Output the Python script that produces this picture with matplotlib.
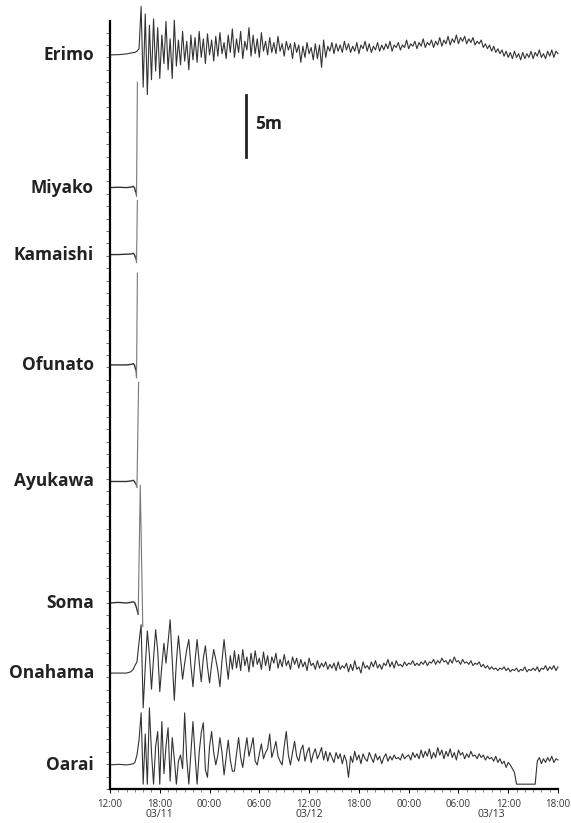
import numpy as np
import matplotlib.pyplot as plt
from matplotlib.transforms import blended_transform_factory

# tide gauge records, hours after 12:00 03/11, water level in m
stations = ["Erimo", "Miyako", "Kamaishi", "Ofunato", "Ayukawa", "Soma", "Onahama", "Oarai"]
offsets = [59.2, 48.5, 43.1, 34.2, 24.8, 15.0, 9.35, 1.94]

# full records: quiet part before arrival, then 15 min samples from 15:00 03/11
pre_t = [0, 1, 2, 2.5, 2.8]
grid_t = np.arange(3.0, 54.01, 0.25)

erimo_pre = [0, 0.02, 0.08, 0.15, 0.18]
erimo = [
    0.2, 0.3, 0.5, 3.9, -2.6, 3.3, -3.2, 2.4,
    -2.0, 2.9, -1.3, 2.2, -1.9, 1.6, -0.7, 2.7,
    -1.2, 1.3, -1.9, 2.8, -0.9, 1.2, -0.8, 1.9,
    -0.5, 1.1, -1.2, 1.6, -0.4, 1.4, -0.6, 1.9,
    -0.2, 1.3, -0.7, 1.7, 0.0, 1.2, -0.5, 1.5,
    -0.1, 1.8, 0.1, 1.0, -0.3, 1.6, 0.2, 2.1,
    -0.2, 1.3, 0.2, 1.9, -0.3, 1.1, 0.4, 2.2,
    -0.1, 1.6, 0.1, 1.3, -0.2, 1.8, 0.3, 1.1,
    0.0, 1.4, 0.2, 1.0, 0.1, 1.5, 0.3, 0.9,
    -0.1, 1.1, 0.4, 0.9, -0.3, 1.0, 0.2, 0.8,
    -0.6, 0.7, -0.2, 1.0, 0.1, 0.6, -0.4, 0.9,
    -0.3, 0.8, -1.0, 1.2, -0.2, 0.7, 0.3, 1.0,
    0.1, 0.9, 0.3, 0.8, 0.2, 1.1, 0.4, 0.9,
    0.2, 0.7, 0.3, 1.0, 0.1, 0.8, 0.5, 1.1,
    0.3, 0.9, 0.2, 0.7, 0.4, 1.0, 0.3, 0.8,
    0.4, 0.9, 0.5, 1.1, 0.3, 0.8, 0.6, 1.0,
    0.4, 0.8, 0.6, 1.2, 0.5, 0.9, 0.7, 1.1,
    0.5, 1.0, 0.7, 1.3, 0.6, 1.0, 0.8, 1.2,
    0.6, 1.1, 0.8, 1.4, 0.7, 1.2, 0.9, 1.5,
    0.8, 1.3, 1.0, 1.6, 0.9, 1.4, 1.1, 1.5,
    0.9, 1.3, 1.0, 1.4, 0.8, 1.1, 0.9, 1.2,
    0.6, 0.9, 0.5, 0.8, 0.3, 0.7, 0.2, 0.5,
    0.1, 0.4, -0.1, 0.3, -0.2, 0.2, -0.3, 0.3,
    -0.2, 0.1, -0.4, 0.2, -0.3, 0.1, -0.2, 0.3,
    -0.3, 0.2, -0.1, 0.4, -0.2, 0.1, -0.3, 0.3,
    -0.1, 0.4, -0.2, 0.3, 0.1,
]

onahama_pre = [0, 0, 0, 0.1, 0.3]
onahama = [
    0.6, 0.9, 2.5, 3.9, -2.8, 0.5, 3.4, 1.5,
    -1.3, 1.2, 3.5, 1.8, -1.5, 0.6, 2.4, 0.8,
    2.5, 4.3, 1.0, -2.2, 0.9, 3.0, 1.2, -0.5,
    0.8, 1.9, 2.7, 0.6, -1.1, 1.0, 2.7, 0.9,
    -0.7, 1.2, 2.2, 0.5, -0.8, 0.7, 1.9, 1.1,
    0.2, -1.1, 1.0, 2.7, 1.0, -0.5, 1.4, 0.3,
    1.8, 0.4, 1.5, 0.2, 1.9, 0.6, 1.3, 0.1,
    1.6, 0.5, 1.8, 0.7, 1.2, 0.3, 1.7, 0.6,
    1.4, 0.2, 1.3, 0.8, 1.6, 0.4, 1.1, 0.5,
    1.5, 0.6, 1.0, 0.3, 1.3, 0.7, 1.2, 0.4,
    1.1, 0.5, 0.9, 0.2, 1.2, 0.6, 0.8, 0.3,
    1.0, 0.4, 0.8, 0.5, 0.9, 0.3, 0.7, 0.4,
    0.8, 0.2, 0.9, 0.3, 0.6, 0.4, 0.8, 0.1,
    0.7, 0.2, 1.0, 0.3, 0.5, 0.0, 0.9, 0.4,
    0.6, 0.3, 0.9, 0.5, 1.0, 0.4, 0.7, 0.3,
    0.8, 0.6, 1.1, 0.5, 0.9, 0.4, 1.0, 0.6,
    0.7, 0.5, 0.9, 0.6, 0.8, 0.7, 1.0, 0.6,
    0.8, 0.6, 0.9, 0.7, 1.0, 0.6, 0.9, 0.8,
    1.1, 0.7, 1.0, 0.8, 1.2, 0.9, 1.0, 0.7,
    1.1, 0.8, 1.3, 0.9, 1.0, 0.7, 1.1, 0.8,
    0.9, 0.7, 1.0, 0.6, 0.8, 0.7, 0.9, 0.5,
    0.7, 0.4, 0.6, 0.3, 0.5, 0.3, 0.4, 0.2,
    0.4, 0.3, 0.5, 0.2, 0.4, 0.1, 0.3, 0.2,
    0.4, 0.1, 0.3, 0.2, 0.5, 0.1, 0.3, 0.2,
    0.4, 0.2, 0.5, 0.1, 0.4, 0.3, 0.6, 0.2,
    0.5, 0.3, 0.6, 0.2, 0.5,
]

# Oarai gauge bottoms out at -1.55 m
oarai_pre = [0, 0.05, 0, 0.05, 0.1]
oarai = [
    0.2, 0.8, 2.0, 4.2, -1.55, 2.5, -1.55, 4.6,
    1.0, -1.55, 1.5, 2.7, -1.55, 3.5, -0.7, 1.5,
    3.0, -1.3, 2.2, 0.5, -1.55, 0.3, 0.8, -0.3,
    4.2, 0.5, -1.55, 1.0, 3.5, 0.8, -1.55, 1.0,
    2.6, 3.4, -0.4, -1.0, 1.5, 2.7, 1.0, 0.0,
    0.8, 2.2, 1.0, -0.8, 0.6, 2.0, 0.4, -0.5,
    -0.5, 0.9, 2.2, 0.6, -0.2, 1.1, 2.2, 0.7,
    1.4, 2.2, 0.3, 0.0, 0.9, 1.7, 0.5, 1.0,
    1.3, 2.5, 0.6, 1.2, 1.9, 0.7, 0.3, 0.0,
    1.5, 2.7, 0.8, 0.0, 1.0, 1.9, 0.7, 0.3,
    1.2, 1.6, 0.3, 1.0, 1.4, 0.2, 0.9, 1.3,
    0.5, 0.9, 1.4, 0.4, 1.1, 0.3, 1.0, 0.6,
    0.2, 1.0, 0.5, 0.9, 0.1, 0.8, 0.3, -1.0,
    0.7, 0.2, 1.1, 0.4, 0.8, 0.1, 0.9, 0.5,
    0.3, 1.0, 0.6, 0.2, 0.9, 0.4, 0.7, 0.1,
    0.6, 0.9, 0.3, 0.7, 0.4, 0.8, 0.5, 0.6,
    0.4, 0.9, 0.5, 0.7, 0.8, 0.4, 1.0, 0.6,
    0.9, 0.5, 1.2, 0.6, 1.1, 0.7, 1.3, 0.5,
    1.0, 0.6, 1.4, 0.8, 1.2, 0.5, 1.1, 0.7,
    1.3, 0.6, 1.0, 0.4, 1.2, 0.8, 1.0, 0.5,
    0.9, 0.6, 1.1, 0.7, 0.8, 0.5, 0.9, 0.6,
    0.8, 0.4, 0.7, 0.5, 0.6, 0.3, 0.7, 0.2,
    0.5, 0.1, 0.3, -0.2, 0.2, 0.0, -0.3, -0.6,
    -1.55, -1.55, -1.55, -1.55, -1.55, -1.55, -1.55, -1.55,
    -1.55, -1.55, 0.3, 0.6, 0.1, 0.5, 0.2, 0.6,
    0.3, 0.7, 0.2, 0.5, 0.4,
]

# records that stop when the gauge was overtopped
short_t = {
    "Miyako":   [0, 1, 2, 2.6, 2.8, 2.95, 3.1, 3.2, 3.3],
    "Kamaishi": [0, 1, 2, 2.6, 2.8, 2.95, 3.1, 3.2, 3.3],
    "Ofunato":  [0, 1, 2, 2.6, 2.8, 2.95, 3.1, 3.2, 3.3],
    "Ayukawa":  [0, 1, 2, 2.6, 2.8, 2.95, 3.1, 3.25, 3.45],
    "Soma":     [0, 1, 2, 2.5, 2.8, 3.0, 3.2, 3.4, 3.65, 3.95],
}
short_v = {
    "Miyako":   [0, 0.03, 0, 0.05, 0.1, 0.0, -0.4, -0.7, 8.5],
    "Kamaishi": [0, 0, 0.03, 0.05, 0.1, 0.0, -0.3, -0.65, 4.35],
    "Ofunato":  [0, 0, 0, 0.05, 0.1, 0.0, -0.4, -1.05, 7.4],
    "Ayukawa":  [0, 0, 0, 0.05, 0.1, 0.0, -0.2, -0.5, 8.0],
    "Soma":     [0, 0.05, 0, 0.05, 0.1, 0.0, -0.4, -0.9, 9.5, -1.9],
}

tick_hours = [0, 6, 12, 18, 24, 30, 36, 42, 48, 54]
tick_labels = ["12:00", "18:00", "00:00", "06:00", "12:00", "18:00", "00:00", "06:00", "12:00", "18:00"]
date_hours = [6, 24, 46]
date_labels = ["03/11", "03/12", "03/13"]

label_font = "Open Sans"

fig = plt.figure(figsize=(5.71, 8.23), dpi=100)
ax = fig.add_axes([110 / 571, 1 - 789 / 823, 448 / 571, 784 / 823])

dark = "#333333"
full = {"Erimo": (erimo_pre, erimo), "Onahama": (onahama_pre, onahama), "Oarai": (oarai_pre, oarai)}
for name, off in zip(stations, offsets):
    if name in full:
        pre, rec = full[name]
        t = np.concatenate([pre_t, grid_t])
        v = np.concatenate([pre, rec])
        ax.plot(t, v + off, color=dark, lw=0.8, clip_on=False)
    else:
        t = np.array(short_t[name])
        v = np.array(short_v[name])
        ax.plot(t[:-2], v[:-2] + off, color=dark, lw=1.0)
        ax.plot(t[-3:], v[-3:] + off, color="#777777", lw=0.8, clip_on=False)

trans = blended_transform_factory(ax.transAxes, ax.transData)
for name, off in zip(stations, offsets):
    ax.text(-0.036, off, name, transform=trans, ha="right", va="center",
            fontsize=12.5, fontweight="bold", family=label_font, color="#222222")

# 5 m scale bar
ax.plot([16.45, 16.45], [51.0, 56.0], color="#222222", lw=2)
ax.text(17.5, 53.6, "5m", ha="left", va="center", fontsize=12.5,
        fontweight="bold", family=label_font, color="#222222")

ax.set_xlim(0, 54)
ax.set_ylim(0, 784 / 12.4)
ax.spines["top"].set_visible(False)
ax.spines["right"].set_visible(False)
ax.spines["left"].set_bounds(0, 61.9)
ax.spines["left"].set_linewidth(1.6)
ax.spines["bottom"].set_linewidth(1.6)

ax.set_yticks(np.arange(0, 62, 1))
ax.set_yticklabels([])
ax.tick_params(axis="y", length=3, width=0.6, color="#555555")

ax.set_xticks(tick_hours)
ax.set_xticklabels(tick_labels, fontsize=7, family=label_font, color="#333333")
ax.set_xticks(np.arange(0, 55, 1), minor=True)
ax.tick_params(axis="x", which="major", length=3, width=0.7, pad=4)
ax.tick_params(axis="x", which="minor", length=2, width=0.5, color="#555555")

xtrans = blended_transform_factory(ax.transData, ax.transAxes)
for h, lab in zip(date_hours, date_labels):
    ax.text(h, -0.026, lab, transform=xtrans, ha="center", va="top",
            fontsize=7.5, family=label_font, color="#333333")

fig.savefig("out.png", dpi=100)
